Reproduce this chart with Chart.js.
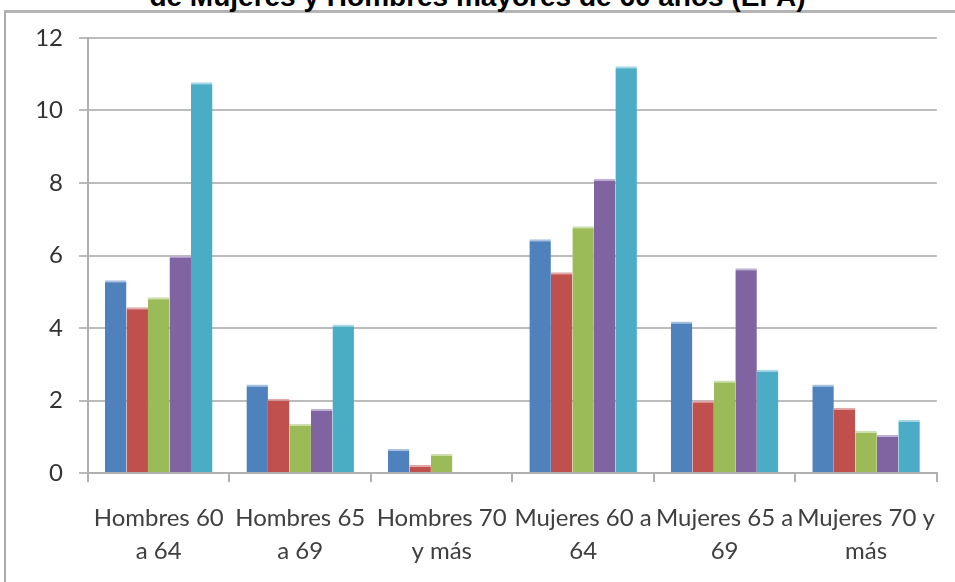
<!DOCTYPE html>
<html>
<head>
<meta charset="utf-8">
<script src="https://cdn.jsdelivr.net/npm/chart.js@4/dist/chart.umd.min.js"></script>
<style>
  html, body { margin: 0; padding: 0; background: #fff; width: 955px; height: 582px; overflow: hidden; }
  #frame { position: absolute; left: 4px; top: 10px; width: 1100px; height: 800px; border-left: 2px solid #ababab; border-top: 3px solid #b4b4b4; }
  #title { position: absolute; left: 0; top: -17px; width: 955px; text-align: center; font: bold 28px/28px "Liberation Sans", Arial, sans-serif; color: #000; white-space: nowrap; }
  #wrap { position: absolute; left: 0; top: 0; width: 955px; height: 582px; }
</style>
</head>
<body>
<div id="frame"></div>
<div id="title">de Mujeres y Hombres mayores de 60 años (EPA)</div>
<div id="wrap"><canvas id="c"></canvas></div>
<script>
const categories = [
  ["Hombres 60", "a 64"],
  ["Hombres 65", "a 69"],
  ["Hombres 70", "y más"],
  ["Mujeres 60 a", "64"],
  ["Mujeres 65 a", "69"],
  ["Mujeres 70 y", "más"]
];
const seriesNames = ["Serie 1", "Serie 2", "Serie 3", "Serie 4", "Serie 5"];
const serie1 = [5.32, 2.44, 0.66, 6.45, 4.18, 2.44];
const serie2 = [4.57, 2.05, 0.22, 5.54, 2.00, 1.80];
const serie3 = [4.85, 1.36, 0.53, 6.81, 2.55, 1.16];
const serie4 = [6.00, 1.77, 0, 8.12, 5.65, 1.05];
const serie5 = [10.78, 4.10, 0, 11.22, 2.85, 1.47];
const yTicks = [0, 2, 4, 6, 8, 10, 12];

const colors = ["#4F81BD", "#C0504D", "#9BBB59", "#8064A2", "#4BACC6"];
const edge = ["#a9c1e0", "#e0a8a6", "#cfe0b0", "#c0b2d4", "#a8d8e6"];
const allSeries = [serie1, serie2, serie3, serie4, serie5];

new Chart(document.getElementById("c"), {
  type: "bar",
  data: {
    labels: categories,
    datasets: allSeries.map((d, i) => ({
      label: seriesNames[i],
      data: d,
      backgroundColor: colors[i],
      borderColor: edge[i],
      borderWidth: { top: 2, left: 0, right: 0, bottom: 0 },
      borderSkipped: "bottom",
      categoryPercentage: 0.76,
      barPercentage: 1.0
    }))
  },
  options: {
    responsive: true,
    maintainAspectRatio: false,
    animation: false,
    layout: { padding: { left: 0, right: 13, top: 38, bottom: 0 } },
    plugins: { legend: { display: false }, title: { display: false }, tooltip: { enabled: false } },
    scales: {
      x: {
        grid: { drawOnChartArea: false, drawTicks: true, tickLength: 9, color: "#b0b0b0", lineWidth: 2, offset: true },
        border: { display: true, color: "#b0b0b0", width: 2 },
        ticks: { color: "#404040", font: { family: "Lato", size: 24, lineHeight: 1.4 }, padding: 19, maxRotation: 0, autoSkip: false },
        afterFit: (s) => { s.height = 109; }
      },
      y: {
        min: 0, max: 12,
        afterBuildTicks: (s) => { s.ticks = yTicks.map(v => ({ value: v })); },
        grid: { color: "#bcbcbc", lineWidth: 2, drawTicks: true, tickLength: 9 },
        border: { display: true, color: "#b0b0b0", width: 2 },
        ticks: { color: "#333", font: { family: "Lato", size: 24 }, padding: 16 },
        afterFit: (s) => { s.width = 88; }
      }
    }
  }
});
</script>
</body>
</html>
